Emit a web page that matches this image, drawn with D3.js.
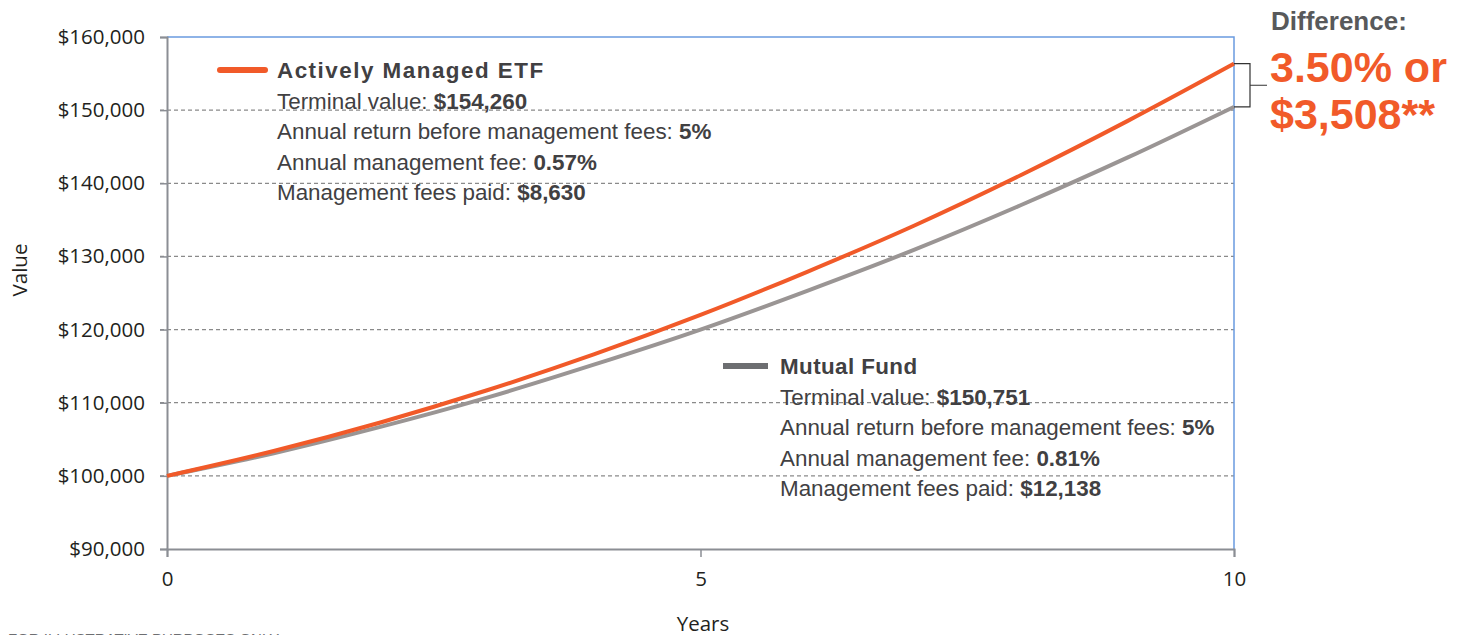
<!DOCTYPE html>
<html lang="en">
<head>
  <meta charset="UTF-8">
  <title>Actively Managed ETF vs Mutual Fund</title>
  <script src="https://d3js.org/d3.v7.min.js"></script>
  <style>
    body {
      margin: 0;
      background: #fff;
      overflow: hidden;
    }
    svg {
      display: block;
    }
    .tick text {
      font-family: "Open Sans", sans-serif;
      font-size: 20.5px;
      fill: #231f20;
    }
    .legend text {
      font-family: "Liberation Sans", Arial, sans-serif;
      font-size: 22.4px;
      fill: #414042;
    }
  </style>
</head>
<body>
  <svg width="1465" height="635"></svg>

  <script>
  // Values (year -> portfolio value).
  const years = [0, 1, 2, 3, 4, 5, 6, 7, 8, 9, 10];
  const etfValues = [100000, 103400, 107300, 111700, 116600, 122000, 127900, 134200, 141100, 148500, 156350];
  const mutualValues = [100000, 103100, 106700, 110700, 115200, 120000, 125300, 130900, 137000, 143500, 150450];

  // Axis ticks.
  const yTickValues = [90000, 100000, 110000, 120000, 130000, 140000, 150000, 160000];
  const xTickValues = [0, 5, 10];

  // Legend text: [label, bold value].
  const etfTitle = "Actively Managed ETF";
  const etfLines = [
    ["Terminal value: ", "$154,260"],
    ["Annual return before management fees: ", "5%"],
    ["Annual management fee: ", "0.57%"],
    ["Management fees paid: ", "$8,630"]
  ];
  const mutualTitle = "Mutual Fund";
  const mutualLines = [
    ["Terminal value: ", "$150,751"],
    ["Annual return before management fees: ", "5%"],
    ["Annual management fee: ", "0.81%"],
    ["Management fees paid: ", "$12,138"]
  ];
  const diffLines = ["3.50% or", "$3,508**"];

  const orange = "#f15a29";
  const grey = "#9a9594";
  const legendGrey = "#6d6e71";
  const blue = "#6a9be0";
  const axisGrey = "#8b8e94";

  const svg = d3.select("svg");

  // Plot area.
  const plotLeft = 167, plotRight = 1234, plotTop = 37, plotBottom = 549;

  const x = d3.scaleLinear().domain([0, 10]).range([plotLeft, plotRight]);
  const y = d3.scaleLinear().domain([90000, 160000]).range([plotBottom, plotTop]);

  // Dashed gridlines.
  svg.append("g")
     .selectAll("line")
     .data(yTickValues.filter(d => d > 90000 && d < 160000))
     .enter()
     .append("line")
     .attr("x1", plotLeft - 7)
     .attr("x2", plotRight)
     .attr("y1", d => y(d))
     .attr("y2", d => y(d))
     .attr("stroke", "#8a8a8a")
     .attr("stroke-width", 1.2)
     .attr("stroke-dasharray", "4,3");

  // Top and right border in blue.
  svg.append("path")
     .attr("d", `M${plotLeft},${y(160000)}H${plotRight}V${plotBottom}`)
     .attr("fill", "none")
     .attr("stroke", blue)
     .attr("stroke-width", 1.5);

  // Y axis.
  const yAxis = svg.append("g")
     .attr("transform", `translate(${plotLeft},0)`)
     .call(d3.axisLeft(y)
       .tickValues(yTickValues)
       .tickFormat(d3.format("$,"))
       .tickSize(7)
       .tickPadding(15));
  yAxis.select(".domain").attr("stroke", axisGrey).attr("stroke-width", 2);
  yAxis.selectAll(".tick line").attr("stroke", axisGrey).attr("stroke-width", 1.5);

  // X axis.
  const xAxis = svg.append("g")
     .attr("transform", `translate(0,${plotBottom})`)
     .call(d3.axisBottom(x)
       .tickValues(xTickValues)
       .tickFormat(d3.format("d"))
       .tickSize(8)
       .tickPadding(14));
  xAxis.select(".domain").attr("stroke", axisGrey).attr("stroke-width", 2);
  xAxis.selectAll(".tick line").attr("stroke", axisGrey).attr("stroke-width", 1.5);

  // Axis titles.
  svg.append("text")
     .attr("transform", "translate(27,270) rotate(-90)")
     .attr("text-anchor", "middle")
     .style("font-family", "'Open Sans', sans-serif")
     .style("font-size", "20.5px")
     .style("fill", "#231f20")
     .text("Value");

  svg.append("text")
     .attr("x", 703)
     .attr("y", 631)
     .attr("text-anchor", "middle")
     .style("font-family", "'Open Sans', sans-serif")
     .style("font-size", "20.5px")
     .style("fill", "#231f20")
     .text("Years");

  // Footnote (cut off at the bottom edge, as in the source).
  svg.append("text")
     .attr("x", 8)
     .attr("y", 644)
     .style("font-family", "'Liberation Sans', Arial, sans-serif")
     .style("font-size", "15px")
     .style("fill", legendGrey)
     .text("FOR ILLUSTRATIVE PURPOSES ONLY");

  // Lines.
  const line = d3.line()
     .x((d, i) => x(years[i]))
     .y(d => y(d))
     .curve(d3.curveMonotoneX);

  svg.append("path")
     .datum(mutualValues)
     .attr("d", line)
     .attr("fill", "none")
     .attr("stroke", grey)
     .attr("stroke-width", 4);

  svg.append("path")
     .datum(etfValues)
     .attr("d", line)
     .attr("fill", "none")
     .attr("stroke", orange)
     .attr("stroke-width", 4);

  // Legend blocks.
  function legend(x0, y0, title, lines, color, cap, spacing) {
    const g = svg.append("g").attr("class", "legend");
    g.append("line")
     .attr("x1", x0 - 57)
     .attr("x2", x0 - 12)
     .attr("y1", y0 - 8)
     .attr("y2", y0 - 8)
     .attr("stroke", color)
     .attr("stroke-width", 6)
     .attr("stroke-linecap", cap);
    g.append("text")
     .attr("x", x0)
     .attr("y", y0)
     .style("font-weight", "bold")
     .style("letter-spacing", spacing + "px")
     .text(title);
    lines.forEach((d, i) => {
      const t = g.append("text")
                 .attr("x", x0)
                 .attr("y", y0 + 30.5 * (i + 1));
      t.append("tspan").text(d[0]);
      t.append("tspan").style("font-weight", "bold").text(d[1]);
    });
  }
  legend(277, 78, etfTitle, etfLines, orange, "round", 1.5);
  legend(780, 374, mutualTitle, mutualLines, legendGrey, "butt", 0.4);

  // Difference bracket.
  const yEtfEnd = y(etfValues[etfValues.length - 1]);
  const yMutEnd = y(mutualValues[mutualValues.length - 1]);
  const yMid = (yEtfEnd + yMutEnd) / 2;
  svg.append("path")
     .attr("d", `M${plotRight},${yEtfEnd}H1250V${yMutEnd}H${plotRight}M1250,${yMid}H1267`)
     .attr("fill", "none")
     .attr("stroke", "#333")
     .attr("stroke-width", 1.2);

  svg.append("text")
     .attr("x", 1271)
     .attr("y", 30)
     .style("font-family", "'Liberation Sans', Arial, sans-serif")
     .style("font-size", "26px")
     .style("font-weight", "bold")
     .style("fill", "#58595b")
     .text("Difference:");

  svg.selectAll("text.diff")
     .data(diffLines)
     .enter()
     .append("text")
     .attr("class", "diff")
     .attr("x", 1270)
     .attr("y", (d, i) => 82 + i * 46.5)
     .style("font-family", "'Liberation Sans', Arial, sans-serif")
     .style("font-size", "43px")
     .style("font-weight", "bold")
     .style("fill", orange)
     .text(d => d);
  </script>
</body>
</html>
